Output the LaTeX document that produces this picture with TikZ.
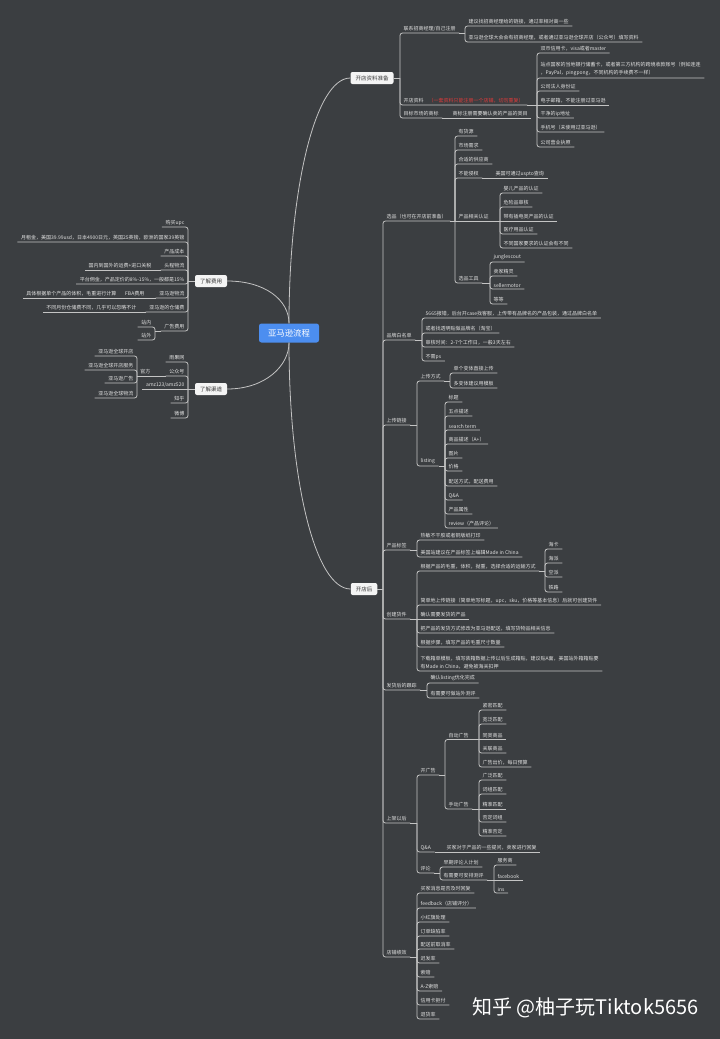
\documentclass[tikz,border=0pt]{standalone}
\usepackage{fontspec}
\usepackage{tikz}
\usetikzlibrary{calc}
\newfontfamily\cjk{Noto Sans CJK SC}
\definecolor{bgc}{HTML}{3B3E41}
\definecolor{lnc}{HTML}{C4C4C4}
\definecolor{txc}{HTML}{E2E2E2}
\definecolor{boxc}{HTML}{F4F4F4}
\definecolor{boxt}{HTML}{3A3A3A}
\definecolor{rootc}{HTML}{4C8EF0}
\definecolor{notec}{HTML}{E23A3A}

\tikzset{
  lbl/.style={anchor=south west, inner xsep=3.5pt, inner ysep=1.6pt, text=txc,
    font=\cjk\fontsize{5}{8.5}\selectfont, align=left},
  lbr/.style={lbl, anchor=south east, align=right},
  link/.style={draw=lnc, line width=0.8pt, rounded corners=2.5pt},
  topic/.style={fill=boxc, rounded corners=2pt, text=boxt,
    font=\cjk\fontsize{5.5}{6}\selectfont, inner xsep=5pt, minimum height=12pt},
  rootbox/.style={fill=rootc, rounded corners=2.5pt, text=white,
    font=\cjk\fontsize{8.4}{9}\selectfont, inner xsep=9pt, minimum height=19pt},
}
% child to the right / to the left of a bracket
\newcommand{\lk}[2]{\draw[link] (#1 -| #2.south west) -- (#2.south west) -- (#2.south east)}
\newcommand{\lkl}[2]{\draw[link] (#1 -| #2.south east) -- (#2.south east) -- (#2.south west)}
% parent underline out to the bracket
\newcommand{\pu}[2]{\draw[link] (#1.south east) -- (#1.south east -| #2.south west)}
\newcommand{\pul}[2]{\draw[link] (#1.south west) -- (#1.south west -| #2.south east)}
% child on the parent's own line
\newcommand{\st}[2]{\draw[link] (#1.south east) -- (#2.south east)}
\newcommand{\stl}[2]{\draw[link] (#1.south west) -- (#2.south west)}

\begin{document}
\begin{tikzpicture}[x=1pt, y=-1pt]
  \useasboundingbox (0,0) rectangle (720,1039);
  \fill[bgc] (0,0) rectangle (720,1039);

  % root and main topics
  \node[rootbox] (rt) at (289,333) {亚马逊流程};
  \node[topic] (zb) at (372,78) {开店资料准备};
  \node[topic] (kh) at (364,589) {开店后};
  \node[topic] (fy) at (211,281) {了解费用};
  \node[topic] (qd) at (211,389) {了解渠道};
  \draw[link] (rt.north) .. controls (289,190) and (315,78) .. (zb.west);
  \draw[link] (rt.south) .. controls (289,480) and (315,589) .. (kh.west);
  \draw[link] (fy.east) .. controls (265,281) and (289,300) .. (rt.north);
  \draw[link] (qd.east) .. controls (265,389) and (289,366) .. (rt.south);

  % Right: 开店资料准备
  \node[lbl] (lx) at (400,33) {联系招商经理/自己注册};
  \node[lbl] (zl) at (400,105) {开店资料\hspace{5pt}\textcolor{notec}{（一套资料只能注册一个店铺，切勿重复）}};
  \node[lbl] (sb) at (400,118) {目标市场的商标};
  \draw[link] (zb.east) -- (zb.east -| lx.south west);
  \foreach \c in {lx,zl,sb} {\lk{zb.east}{\c};}

  \node[lbl] (lx1) at (465,26) {建议找招商经理给的链接，通过率相对高一些};
  \node[lbl] (lx2) at (465,42) {亚马逊全球大会会有招商经理，或者通过亚马逊全球开店（公众号）填写资料};
  \pu{lx}{lx1};
  \foreach \c in {lx1,lx2} {\lk{lx.south east}{\c};}

  \node[lbl] (z1) at (537,53) {双币信用卡，visa或者master};
  \node[lbl] (z2) at (537,78) {站点国家的当地银行储蓄卡，或者第三方机构的跨境收款账号（例如连连\\，PayPal，pingpong，不同机构的手续费不一样）};
  \node[lbl] (z3) at (537,91) {公司法人身份证};
  \node[lbl] (z4) at (537,105) {电子邮箱，不能注册过亚马逊};
  \node[lbl] (z5) at (537,118) {干净的ip地址};
  \node[lbl] (z6) at (537,132) {手机号（未使用过亚马逊）};
  \node[lbl] (z7) at (537,147) {公司营业执照};
  \st{zl}{z4};
  \foreach \c in {z1,z2,z3,z5,z6,z7} {\lk{zl.south east}{\c};}

  \node[lbl] (sb1) at (449,118) {商标注册需要确认卖的产品的类目};
  \st{sb}{sb1};

  % Right: 开店后
  \node[lbl] (xp) at (383,221) {选品（也可在开店前准备）};
  \node[lbl] (pp) at (383,340) {品牌白名单};
  \node[lbl] (sc) at (383,425) {上传链接};
  \node[lbl] (bq) at (383,550) {产品标签};
  \node[lbl] (hj) at (383,619) {创建货件};
  \node[lbl] (gz) at (383,690) {发货后的跟踪};
  \node[lbl] (sj) at (383,823) {上架以后};
  \node[lbl] (jx) at (383,957) {店铺绩效};
  \draw[link] (kh.east) -- (kh.east -| xp.south west);
  \foreach \c in {xp,pp,sc,bq,hj,gz,sj,jx} {\lk{kh.east}{\c};}

  % 选品
  \node[lbl] (xp1) at (455,136) {有货源};
  \node[lbl] (xp2) at (455,150) {市场需求};
  \node[lbl] (xp3) at (455,164) {合适的供应商};
  \node[lbl] (xp4) at (455,178) {不能侵权};
  \node[lbl] (rz) at (455,221) {产品相关认证};
  \node[lbl] (gj) at (455,283) {选品工具};
  \st{xp}{rz};
  \foreach \c in {xp1,xp2,xp3,xp4,gj} {\lk{xp.south east}{\c};}
  \node[lbl] (xp4a) at (492,178) {美国可通过uspto查询};
  \st{xp4}{xp4a};

  \node[lbl] (rz1) at (500,193) {婴儿产品的认证};
  \node[lbl] (rz2) at (500,207) {危险品审核};
  \node[lbl] (rz3) at (500,221) {带有插电类产品的认证};
  \node[lbl] (rz4) at (500,234) {医疗用品认证};
  \node[lbl] (rz5) at (500,248) {不同国家要求的认证会有不同};
  \st{rz}{rz3};
  \foreach \c in {rz1,rz2,rz4,rz5} {\lk{rz.south east}{\c};}

  \node[lbl] (gj1) at (490,262) {junglescout};
  \node[lbl] (gj2) at (490,276) {卖家精灵};
  \node[lbl] (gj3) at (490,289) {sellermotor};
  \node[lbl] (gj4) at (490,304) {等等};
  \pu{gj}{gj1};
  \foreach \c in {gj1,gj2,gj3,gj4} {\lk{gj.south east}{\c};}

  % 品牌白名单
  \node[lbl] (pp1) at (422,318) {5665报错，后台开case找客服，上传带有品牌名的产品包装，通过品牌白名单};
  \node[lbl] (pp2) at (422,333) {或者找透明贴做品牌名（淘宝）};
  \node[lbl] (pp3) at (422,347) {审核时间：2-7个工作日，一般3天左右};
  \node[lbl] (pp4) at (422,361) {不需ps};
  \pu{pp}{pp1};
  \foreach \c in {pp1,pp2,pp3,pp4} {\lk{pp.south east}{\c};}

  % 上传链接
  \node[lbl] (fs) at (417,381) {上传方式};
  \node[lbl] (ls) at (417,466) {listing};
  \pu{sc}{fs};
  \foreach \c in {fs,ls} {\lk{sc.south east}{\c};}
  \node[lbl] (fs1) at (450,373) {单个变体直接上传};
  \node[lbl] (fs2) at (450,388) {多变体建议用模板};
  \pu{fs}{fs1};
  \foreach \c in {fs1,fs2} {\lk{fs.south east}{\c};}

  \node[lbl] (ls1) at (445,402) {标题};
  \node[lbl] (ls2) at (445,416) {五点描述};
  \node[lbl] (ls3) at (445,430) {search term};
  \node[lbl] (ls4) at (445,444) {商品描述（A+）};
  \node[lbl] (ls5) at (445,458) {图片};
  \node[lbl] (ls6) at (445,471) {价格};
  \node[lbl] (ls7) at (445,486) {配送方式，配送费用};
  \node[lbl] (ls8) at (445,500) {Q\&A};
  \node[lbl] (ls9) at (445,514) {产品属性};
  \node[lbl] (ls10) at (445,528) {review（产品评论）};
  \pu{ls}{ls1};
  \foreach \c in {ls1,ls2,ls3,ls4,ls5,ls6,ls7,ls8,ls9,ls10} {\lk{ls.south east}{\c};}

  % 产品标签
  \node[lbl] (bq1) at (417,540) {热敏不干胶或者铜版纸打印};
  \node[lbl] (bq2) at (417,557) {美国站建议在产品标签上编辑Made in China};
  \pu{bq}{bq1};
  \foreach \c in {bq1,bq2} {\lk{bq.south east}{\c};}

  % 创建货件
  \node[lbl] (ys) at (417,571) {根据产品的毛重，体积，抛重，选择合适的运输方式};
  \node[lbl] (hj2) at (417,605) {简单地上传链接（简单地写标题，upc，sku，价格等基本信息）后就可创建货件};
  \node[lbl] (hj3) at (417,619) {确认需要发货的产品};
  \node[lbl] (hj4) at (417,633) {把产品的发货方式修改为亚马逊配送，填写货物品相关信息};
  \node[lbl] (hj5) at (417,647) {根据步骤，填写产品的毛重尺寸数量};
  \node[lbl] (hj6) at (417,671) {下载箱单模板，填写装箱数据上传以后生成箱贴，建议贴A面，美国站外箱箱贴要\\有Made in China，避免被海关扣押};
  \st{hj}{hj3};
  \foreach \c in {ys,hj2,hj4,hj5,hj6} {\lk{hj.south east}{\c};}

  \node[lbl] (ys1) at (545,549) {海卡};
  \node[lbl] (ys2) at (545,563) {海派};
  \node[lbl] (ys3) at (545,577) {空派};
  \node[lbl] (ys4) at (545,592) {铁路};
  \pu{ys}{ys1};
  \foreach \c in {ys1,ys2,ys3,ys4} {\lk{ys.south east}{\c};}

  % 发货后的跟踪
  \node[lbl] (gz1) at (427,683) {确认listing优化完成};
  \node[lbl] (gz2) at (427,698) {有需要可做站外测评};
  \pu{gz}{gz1};
  \foreach \c in {gz1,gz2} {\lk{gz.south east}{\c};}

  % 上架以后
  \node[lbl] (gg) at (417,775) {开广告};
  \node[lbl] (qa) at (417,852) {Q\&A};
  \node[lbl] (pl) at (417,873) {评论};
  \pu{sj}{gg};
  \foreach \c in {gg,qa,pl} {\lk{sj.south east}{\c};}

  \node[lbl] (zd) at (445,739.5) {自动广告};
  \node[lbl] (sd) at (445,809) {手动广告};
  \pu{gg}{zd};
  \foreach \c in {zd,sd} {\lk{gg.south east}{\c};}

  \node[lbl] (zd1) at (479,710) {紧密匹配};
  \node[lbl] (zd2) at (479,724) {宽泛匹配};
  \node[lbl] (zd3) at (479,739.5) {同类商品};
  \node[lbl] (zd4) at (479,753) {关联商品};
  \node[lbl] (zd5) at (479,767) {广告出价，每日预算};
  \st{zd}{zd3};
  \foreach \c in {zd1,zd2,zd4,zd5} {\lk{zd.south east}{\c};}

  \node[lbl] (sd1) at (479,780) {广泛匹配};
  \node[lbl] (sd2) at (479,794) {词组匹配};
  \node[lbl] (sd3) at (479,809) {精准匹配};
  \node[lbl] (sd4) at (479,822) {否定词组};
  \node[lbl] (sd5) at (479,836) {精准否定};
  \st{sd}{sd3};
  \foreach \c in {sd1,sd2,sd4,sd5} {\lk{sd.south east}{\c};}

  \node[lbl] (qa1) at (443,852) {买家对于产品的一些提问，卖家进行回复};
  \st{qa}{qa1};

  \node[lbl] (pl1) at (440,867) {早期评论人计划};
  \node[lbl] (pl2) at (440,880) {有需要可安排测评};
  \pu{pl}{pl1};
  \foreach \c in {pl1,pl2} {\lk{pl.south east}{\c};}
  \node[lbl] (pl2a) at (494,865) {服务商};
  \node[lbl] (pl2b) at (494,880) {facebook};
  \node[lbl] (pl2c) at (494,893) {ins};
  \st{pl2}{pl2b};
  \foreach \c in {pl2a,pl2c} {\lk{pl2.south east}{\c};}

  % 店铺绩效
  \node[lbl] (jx1) at (417,893) {买家消息是否及时回复};
  \node[lbl] (jx2) at (417,908) {feedback（店铺评分）};
  \node[lbl] (jx3) at (417,922) {小红旗处理};
  \node[lbl] (jx4) at (417,936) {订单缺陷率};
  \node[lbl] (jx5) at (417,949) {配送前取消率};
  \node[lbl] (jx6) at (417,963) {迟发率};
  \node[lbl] (jx7) at (417,977) {索赔};
  \node[lbl] (jx8) at (417,991) {A-Z索赔};
  \node[lbl] (jx9) at (417,1005) {信用卡拒付};
  \node[lbl] (jx10) at (417,1019) {退货率};
  \pu{jx}{jx1};
  \foreach \c in {jx1,jx2,jx3,jx4,jx5,jx6,jx7,jx8,jx9,jx10} {\lk{jx.south east}{\c};}

  % Left: 了解费用
  \node[lbr] (fy1) at (188,227) {购买upc};
  \node[lbr] (fy2) at (188,242) {月租金，美国39.99usd，日本4900日元，英国25英镑，欧洲的国家39英镑};
  \node[lbr] (fy3) at (188,256) {产品成本};
  \node[lbr] (fy4) at (188,270) {头程物流};
  \node[lbr] (fy5) at (188,284) {平台佣金，产品定价的8\%-15\%，一般都是15\%};
  \node[lbr] (fy6) at (188,298) {亚马逊物流};
  \node[lbr] (fy7) at (188,312) {亚马逊的仓储费};
  \node[lbr] (fy8) at (188,331) {广告费用};
  \draw[link] (fy.west) -- (fy.west -| fy1.south east);
  \foreach \c in {fy1,fy2,fy3,fy4,fy5,fy6,fy7,fy8} {\lkl{fy.west}{\c};}

  \node[lbr] (fy4a) at (155,270) {国内到国外的运费+进口关税};
  \stl{fy4}{fy4a};
  \node[lbr] (fy6a) at (148,298) {FBA费用};
  \node[lbr] (fy6b) at (120,298) {具体根据单个产品的体积，毛重进行计算};
  \stl{fy6}{fy6a};
  \stl{fy6a}{fy6b};
  \node[lbr] (fy7a) at (140,312) {不同月份仓储费不同，几乎可以忽略不计};
  \stl{fy7}{fy7a};
  \node[lbr] (fy8a) at (155,327) {站内};
  \node[lbr] (fy8b) at (155,340) {站外};
  \pul{fy8}{fy8a};
  \foreach \c in {fy8a,fy8b} {\lkl{fy8.south west}{\c};}

  % Left: 了解渠道
  \node[lbr] (qd1) at (188,362) {雨果网};
  \node[lbr] (qd2) at (188,376) {公众号};
  \node[lbr] (qd3) at (188,389) {amz123/amz520};
  \node[lbr] (qd4) at (188,403) {知乎};
  \node[lbr] (qd5) at (188,418) {微博};
  \draw[link] (qd.west) -- (qd3.south west);
  \foreach \c in {qd1,qd2,qd4,qd5} {\lkl{qd.west}{\c};}

  \node[lbr] (gf) at (154,376) {官方};
  \stl{qd2}{gf};
  \node[lbr] (gf1) at (137,356) {亚马逊全球开店};
  \node[lbr] (gf2) at (137,370) {亚马逊全球开店服务};
  \node[lbr] (gf3) at (137,383) {亚马逊广告};
  \node[lbr] (gf4) at (137,398) {亚马逊全球物流};
  \foreach \c in {gf1,gf2,gf3,gf4} {\lkl{gf.south west}{\c};}

  % watermark
  \node[font=\cjk\fontsize{20}{22}\selectfont, text=white, anchor=east] (wm) at (702,1008) {知乎 @柚子玩Tiktok5656};
\end{tikzpicture}
\end{document}
